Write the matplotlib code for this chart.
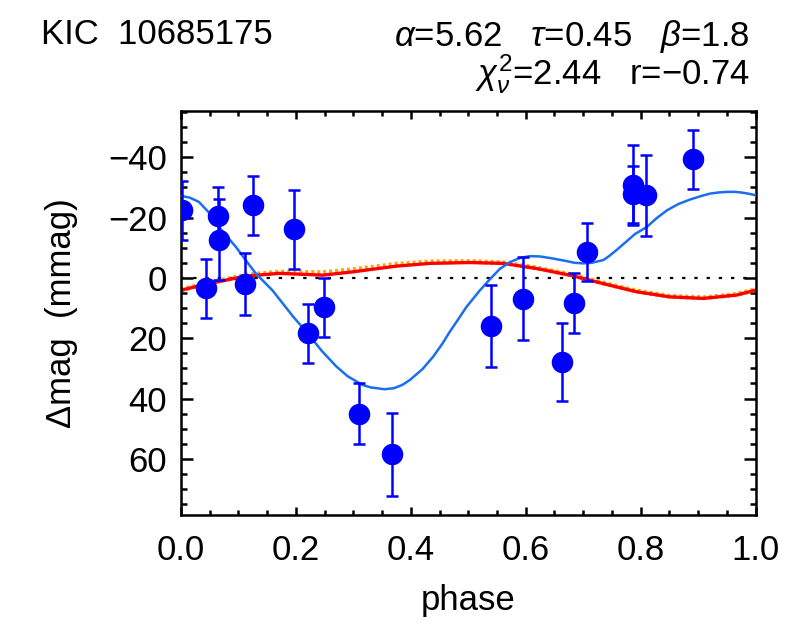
import matplotlib
matplotlib.use("Agg")
import matplotlib.pyplot as plt
from matplotlib.ticker import MultipleLocator

plt.rcParams['font.family'] = ['Liberation Sans', 'DejaVu Sans']
plt.rcParams['mathtext.fontset'] = 'custom'
plt.rcParams['mathtext.rm'] = 'Liberation Sans'
plt.rcParams['mathtext.it'] = 'Liberation Sans:italic'
plt.rcParams['mathtext.bf'] = 'Liberation Sans:bold'

# observed points
phase = [0.002, 0.044, 0.065, 0.066, 0.111, 0.1245, 0.196, 0.2205, 0.2496, 0.309,
         0.3677, 0.539, 0.5946, 0.664, 0.6847, 0.7073, 0.7865, 0.7865, 0.8098, 0.891]
dmag = [-22.4, 3.5, -20.5, -12.7, 2.0, -24.1, -16.1, 18.4, 9.8, 45.1,
        58.5, 16.0, 6.9, 27.8, 8.3, -8.6, -30.8, -27.7, -27.4, -39.3]
err = [9.7, 9.7, 9.5, 13.5, 10.3, 9.8, 13.0, 9.7, 9.9, 10.1,
       13.8, 13.5, 13.7, 13.0, 10.0, 9.7, 13.3, 9.5, 13.4, 9.7]

# blue model curve
fit_phase = [0.0, 0.015, 0.031, 0.047, 0.066, 0.08, 0.0954, 0.112, 0.130, 0.145,
             0.159, 0.171, 0.195, 0.22, 0.245, 0.27, 0.29, 0.316, 0.33, 0.354,
             0.37, 0.385, 0.398, 0.42, 0.4386, 0.455, 0.4677, 0.483, 0.497, 0.52,
             0.5375, 0.555, 0.5724, 0.59, 0.607, 0.625, 0.648, 0.67, 0.685, 0.70,
             0.715, 0.735, 0.745, 0.758, 0.775, 0.79, 0.811, 0.828, 0.846, 0.866,
             0.8866, 0.905, 0.92, 0.935, 0.9506, 0.965, 0.975, 0.988, 1.0]
fit_mag = [-27.2, -26.6, -25.2, -22.0, -16.9, -13.7, -10.3, -6.0, -1.5, 1.4,
           4.1, 7.0, 12.8, 18.3, 24.2, 29.3, 32.6, 35.5, 36.3, 36.9,
           36.6, 35.5, 33.9, 30.3, 26.2, 21.8, 17.9, 13.6, 9.6, 4.2,
           0.5, -3.0, -5.2, -6.6, -7.2, -7.1, -6.4, -5.6, -5.0, -4.8,
           -5.0, -5.9, -7.2, -9.2, -12.0, -14.5, -16.9, -19.8, -22.4, -24.5,
           -26.0, -27.1, -27.9, -28.3, -28.5, -28.5, -28.3, -27.9, -27.4]

# red model curve
red_phase = [0.0, 0.05, 0.114, 0.171, 0.247, 0.299, 0.375, 0.433, 0.503, 0.561,
             0.619, 0.677, 0.735, 0.793, 0.851, 0.909, 0.967, 1.0]
red_mag = [4.1, 1.8, -0.6, -1.5, -0.9, -2.0, -3.9, -4.8, -5.1, -4.8,
           -3.1, -0.9, 1.9, 4.6, 6.3, 6.8, 5.7, 4.1]
orange_mag = [4.0, 1.6, -0.9, -1.9, -1.7, -2.7, -4.5, -5.3, -5.4, -5.0,
              -3.3, -1.1, 1.7, 4.4, 6.1, 6.6, 5.5, 3.9]

fig = plt.figure(figsize=(7.86, 6.28), dpi=100)
ax = fig.add_axes([0.2303, 0.1804, 0.7309, 0.6428])

ax.axhline(0, color='black', lw=1.6, ls=(0, (1.5, 4)), zorder=1)
ax.plot(red_phase, orange_mag, color='orange', lw=3.6, ls=(0, (0.6, 0.6)), zorder=2)
ax.plot(red_phase, red_mag, color='red', lw=2.4, zorder=2)
ax.plot(fit_phase, fit_mag, color='#1a6ef0', lw=1.8, zorder=3)
ax.errorbar(phase, dmag, yerr=err, fmt='o', color='#0000ff', ecolor='#0000ff',
            elinewidth=1.8, capsize=4, capthick=1.8, markersize=14.5, zorder=4)

ax.set_xlim(0, 1)
ax.set_ylim(78.5, -55.3)
ax.xaxis.set_minor_locator(MultipleLocator(0.05))
ax.yaxis.set_minor_locator(MultipleLocator(5))
ax.set_xticks([0.0, 0.2, 0.4, 0.6, 0.8, 1.0])
ax.set_xticklabels(['0.0', '0.2', '0.4', '0.6', '0.8', '1.0'])
ax.set_yticks([-40, -20, 0, 20, 40, 60])
ax.set_yticklabels(['\u221240', '\u221220', '0', '20', '40', '60'])

for s in ax.spines.values():
    s.set_linewidth(1.8)
ax.tick_params(axis='both', which='both', direction='in', top=True, right=True,
               labelsize=25, width=1.8)
ax.tick_params(axis='y', which='major', length=8.5, pad=10)
ax.tick_params(axis='y', which='minor', length=4)
ax.tick_params(axis='x', which='major', length=6, pad=14)
ax.tick_params(axis='x', which='minor', length=3.5)

ax.set_xlabel('phase', fontsize=25, labelpad=12)
ax.set_ylabel('\u0394mag  (mmag)', fontsize=25, labelpad=22)

fig.text(40.7 / 786, 1 - 44 / 628, 'KIC  10685175', fontsize=25, ha='left', va='baseline')
fig.text(750 / 786, 1 - 46 / 628, r'$\alpha$=5.62   $\tau$=0.45   $\beta$=1.8',
         fontsize=25, ha='right', va='baseline')
fig.text(750 / 786, 1 - 84 / 628, r'$\chi^2_\nu$=2.44   r=$-$0.74',
         fontsize=25, ha='right', va='baseline')

fig.savefig('out.png', dpi=100)
